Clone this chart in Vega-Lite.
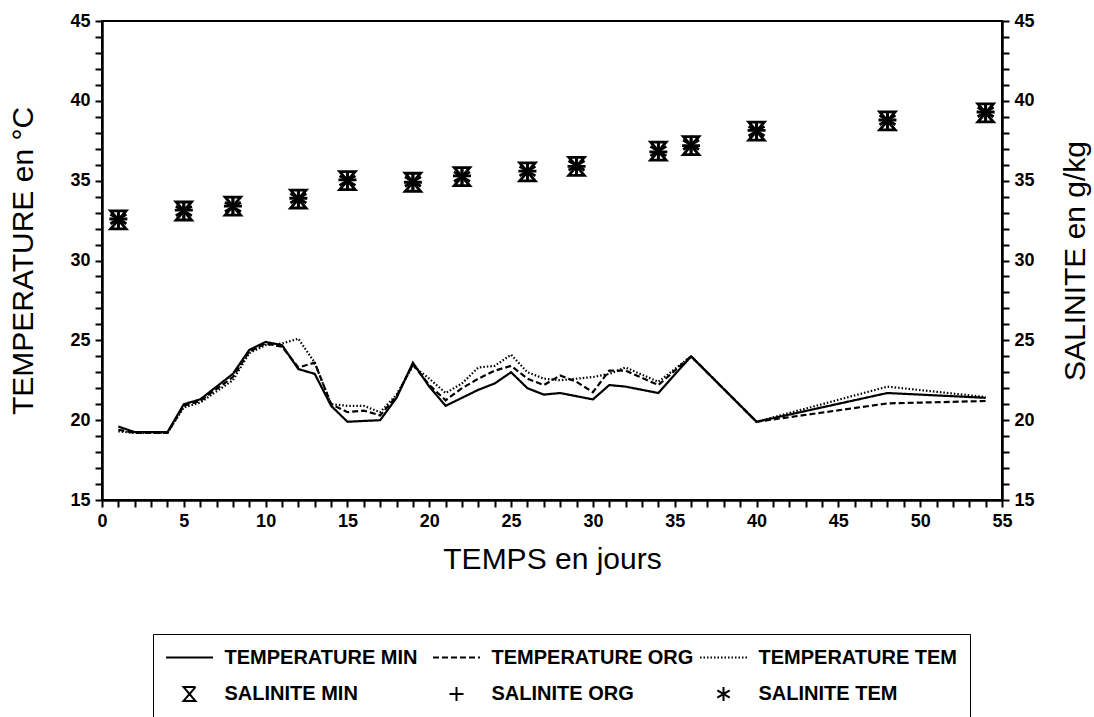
{
  "$schema": "https://vega.github.io/schema/vega-lite/v6.json",
  "width": 900,
  "height": 479,
  "autosize": {"type": "none"},
  "padding": {"left": 102, "top": 21, "right": 92, "bottom": 217},
  "background": "white",
  "config": {
    "view": {"stroke": "black", "strokeWidth": 2},
    "font": "Liberation Sans",
    "axis": {
      "grid": false,
      "domainColor": "black",
      "domainWidth": 2.5,
      "tickColor": "black",
      "tickWidth": 2,
      "tickSize": 7,
      "labelFont": "Liberation Sans",
      "labelFontWeight": "bold",
      "labelFontSize": 18,
      "labelColor": "black",
      "labelPadding": 5,
      "labelFlush": false,
      "labelOverlap": false,
      "titleFont": "Liberation Sans",
      "titleFontWeight": "normal",
      "titleFontSize": 30,
      "titleColor": "black"
    },
    "legend": {
      "orient": "none",
      "legendX": 51,
      "legendY": 613,
      "columns": 3,
      "direction": "horizontal",
      "gridAlign": "all",
      "strokeColor": "black",
      "padding": 12,
      "symbolSize": 400,
      "symbolOffset": 13.5,
      "symbolStrokeWidth": 2,
      "symbolStrokeColor": "black",
      "symbolFillColor": "transparent",
      "labelFont": "Liberation Sans",
      "labelFontWeight": "bold",
      "labelFontSize": 20,
      "labelColor": "black",
      "labelOffset": 24,
      "labelLimit": 400,
      "rowPadding": 15,
      "columnPadding": 2
    }
  },
  "datasets": {
    "temperature": [
      {"jour": 1, "temperature": 19.6, "serie": "TEMPERATURE MIN"},
      {"jour": 2, "temperature": 19.25, "serie": "TEMPERATURE MIN"},
      {"jour": 4, "temperature": 19.25, "serie": "TEMPERATURE MIN"},
      {"jour": 5, "temperature": 21.0, "serie": "TEMPERATURE MIN"},
      {"jour": 6, "temperature": 21.3, "serie": "TEMPERATURE MIN"},
      {"jour": 8, "temperature": 22.9, "serie": "TEMPERATURE MIN"},
      {"jour": 9, "temperature": 24.4, "serie": "TEMPERATURE MIN"},
      {"jour": 10, "temperature": 24.9, "serie": "TEMPERATURE MIN"},
      {"jour": 11, "temperature": 24.7, "serie": "TEMPERATURE MIN"},
      {"jour": 12, "temperature": 23.2, "serie": "TEMPERATURE MIN"},
      {"jour": 13, "temperature": 22.9, "serie": "TEMPERATURE MIN"},
      {"jour": 14, "temperature": 20.9, "serie": "TEMPERATURE MIN"},
      {"jour": 15, "temperature": 19.9, "serie": "TEMPERATURE MIN"},
      {"jour": 17, "temperature": 20.0, "serie": "TEMPERATURE MIN"},
      {"jour": 18, "temperature": 21.4, "serie": "TEMPERATURE MIN"},
      {"jour": 19, "temperature": 23.6, "serie": "TEMPERATURE MIN"},
      {"jour": 20, "temperature": 22.1, "serie": "TEMPERATURE MIN"},
      {"jour": 21, "temperature": 20.9, "serie": "TEMPERATURE MIN"},
      {"jour": 22, "temperature": 21.4, "serie": "TEMPERATURE MIN"},
      {"jour": 23, "temperature": 21.9, "serie": "TEMPERATURE MIN"},
      {"jour": 24, "temperature": 22.3, "serie": "TEMPERATURE MIN"},
      {"jour": 25, "temperature": 23.0, "serie": "TEMPERATURE MIN"},
      {"jour": 26, "temperature": 22.0, "serie": "TEMPERATURE MIN"},
      {"jour": 27, "temperature": 21.6, "serie": "TEMPERATURE MIN"},
      {"jour": 28, "temperature": 21.7, "serie": "TEMPERATURE MIN"},
      {"jour": 30, "temperature": 21.3, "serie": "TEMPERATURE MIN"},
      {"jour": 31, "temperature": 22.2, "serie": "TEMPERATURE MIN"},
      {"jour": 32, "temperature": 22.1, "serie": "TEMPERATURE MIN"},
      {"jour": 34, "temperature": 21.7, "serie": "TEMPERATURE MIN"},
      {"jour": 36, "temperature": 24.0, "serie": "TEMPERATURE MIN"},
      {"jour": 40, "temperature": 19.9, "serie": "TEMPERATURE MIN"},
      {"jour": 48, "temperature": 21.7, "serie": "TEMPERATURE MIN"},
      {"jour": 54, "temperature": 21.4, "serie": "TEMPERATURE MIN"},

      {"jour": 1, "temperature": 19.4, "serie": "TEMPERATURE ORG"},
      {"jour": 2, "temperature": 19.2, "serie": "TEMPERATURE ORG"},
      {"jour": 4, "temperature": 19.2, "serie": "TEMPERATURE ORG"},
      {"jour": 5, "temperature": 20.9, "serie": "TEMPERATURE ORG"},
      {"jour": 6, "temperature": 21.2, "serie": "TEMPERATURE ORG"},
      {"jour": 8, "temperature": 22.7, "serie": "TEMPERATURE ORG"},
      {"jour": 9, "temperature": 24.3, "serie": "TEMPERATURE ORG"},
      {"jour": 10, "temperature": 24.8, "serie": "TEMPERATURE ORG"},
      {"jour": 11, "temperature": 24.6, "serie": "TEMPERATURE ORG"},
      {"jour": 12, "temperature": 23.3, "serie": "TEMPERATURE ORG"},
      {"jour": 13, "temperature": 23.6, "serie": "TEMPERATURE ORG"},
      {"jour": 14, "temperature": 21.0, "serie": "TEMPERATURE ORG"},
      {"jour": 15, "temperature": 20.5, "serie": "TEMPERATURE ORG"},
      {"jour": 16, "temperature": 20.6, "serie": "TEMPERATURE ORG"},
      {"jour": 17, "temperature": 20.3, "serie": "TEMPERATURE ORG"},
      {"jour": 18, "temperature": 21.5, "serie": "TEMPERATURE ORG"},
      {"jour": 19, "temperature": 23.5, "serie": "TEMPERATURE ORG"},
      {"jour": 20, "temperature": 22.2, "serie": "TEMPERATURE ORG"},
      {"jour": 21, "temperature": 21.25, "serie": "TEMPERATURE ORG"},
      {"jour": 22, "temperature": 22.0, "serie": "TEMPERATURE ORG"},
      {"jour": 23, "temperature": 22.6, "serie": "TEMPERATURE ORG"},
      {"jour": 24, "temperature": 23.1, "serie": "TEMPERATURE ORG"},
      {"jour": 25, "temperature": 23.4, "serie": "TEMPERATURE ORG"},
      {"jour": 26, "temperature": 22.6, "serie": "TEMPERATURE ORG"},
      {"jour": 27, "temperature": 22.2, "serie": "TEMPERATURE ORG"},
      {"jour": 28, "temperature": 22.8, "serie": "TEMPERATURE ORG"},
      {"jour": 29, "temperature": 22.4, "serie": "TEMPERATURE ORG"},
      {"jour": 30, "temperature": 21.75, "serie": "TEMPERATURE ORG"},
      {"jour": 31, "temperature": 23.1, "serie": "TEMPERATURE ORG"},
      {"jour": 32, "temperature": 23.1, "serie": "TEMPERATURE ORG"},
      {"jour": 34, "temperature": 22.2, "serie": "TEMPERATURE ORG"},
      {"jour": 36, "temperature": 24.0, "serie": "TEMPERATURE ORG"},
      {"jour": 40, "temperature": 19.9, "serie": "TEMPERATURE ORG"},
      {"jour": 48, "temperature": 21.05, "serie": "TEMPERATURE ORG"},
      {"jour": 54, "temperature": 21.2, "serie": "TEMPERATURE ORG"},

      {"jour": 1, "temperature": 19.3, "serie": "TEMPERATURE TEM"},
      {"jour": 2, "temperature": 19.2, "serie": "TEMPERATURE TEM"},
      {"jour": 4, "temperature": 19.2, "serie": "TEMPERATURE TEM"},
      {"jour": 5, "temperature": 20.8, "serie": "TEMPERATURE TEM"},
      {"jour": 6, "temperature": 21.1, "serie": "TEMPERATURE TEM"},
      {"jour": 8, "temperature": 22.5, "serie": "TEMPERATURE TEM"},
      {"jour": 9, "temperature": 24.2, "serie": "TEMPERATURE TEM"},
      {"jour": 10, "temperature": 24.7, "serie": "TEMPERATURE TEM"},
      {"jour": 11, "temperature": 24.8, "serie": "TEMPERATURE TEM"},
      {"jour": 12, "temperature": 25.1, "serie": "TEMPERATURE TEM"},
      {"jour": 13, "temperature": 23.6, "serie": "TEMPERATURE TEM"},
      {"jour": 14, "temperature": 21.0, "serie": "TEMPERATURE TEM"},
      {"jour": 15, "temperature": 20.9, "serie": "TEMPERATURE TEM"},
      {"jour": 16, "temperature": 20.9, "serie": "TEMPERATURE TEM"},
      {"jour": 17, "temperature": 20.5, "serie": "TEMPERATURE TEM"},
      {"jour": 18, "temperature": 21.6, "serie": "TEMPERATURE TEM"},
      {"jour": 19, "temperature": 23.4, "serie": "TEMPERATURE TEM"},
      {"jour": 20, "temperature": 22.6, "serie": "TEMPERATURE TEM"},
      {"jour": 21, "temperature": 21.7, "serie": "TEMPERATURE TEM"},
      {"jour": 22, "temperature": 22.3, "serie": "TEMPERATURE TEM"},
      {"jour": 23, "temperature": 23.3, "serie": "TEMPERATURE TEM"},
      {"jour": 24, "temperature": 23.4, "serie": "TEMPERATURE TEM"},
      {"jour": 25, "temperature": 24.1, "serie": "TEMPERATURE TEM"},
      {"jour": 26, "temperature": 23.0, "serie": "TEMPERATURE TEM"},
      {"jour": 27, "temperature": 22.6, "serie": "TEMPERATURE TEM"},
      {"jour": 28, "temperature": 22.5, "serie": "TEMPERATURE TEM"},
      {"jour": 30, "temperature": 22.7, "serie": "TEMPERATURE TEM"},
      {"jour": 31, "temperature": 22.9, "serie": "TEMPERATURE TEM"},
      {"jour": 32, "temperature": 23.3, "serie": "TEMPERATURE TEM"},
      {"jour": 34, "temperature": 22.4, "serie": "TEMPERATURE TEM"},
      {"jour": 36, "temperature": 24.0, "serie": "TEMPERATURE TEM"},
      {"jour": 40, "temperature": 19.9, "serie": "TEMPERATURE TEM"},
      {"jour": 48, "temperature": 22.1, "serie": "TEMPERATURE TEM"},
      {"jour": 54, "temperature": 21.45, "serie": "TEMPERATURE TEM"}
    ],
    "salinite": [
      {"jour": 1, "salinite": 32.55, "serie": "SALINITE MIN"},
      {"jour": 5, "salinite": 33.1, "serie": "SALINITE MIN"},
      {"jour": 8, "salinite": 33.4, "serie": "SALINITE MIN"},
      {"jour": 12, "salinite": 33.85, "serie": "SALINITE MIN"},
      {"jour": 15, "salinite": 35.0, "serie": "SALINITE MIN"},
      {"jour": 19, "salinite": 34.9, "serie": "SALINITE MIN"},
      {"jour": 22, "salinite": 35.25, "serie": "SALINITE MIN"},
      {"jour": 26, "salinite": 35.55, "serie": "SALINITE MIN"},
      {"jour": 29, "salinite": 35.9, "serie": "SALINITE MIN"},
      {"jour": 34, "salinite": 36.85, "serie": "SALINITE MIN"},
      {"jour": 36, "salinite": 37.2, "serie": "SALINITE MIN"},
      {"jour": 40, "salinite": 38.1, "serie": "SALINITE MIN"},
      {"jour": 48, "salinite": 38.75, "serie": "SALINITE MIN"},
      {"jour": 54, "salinite": 39.25, "serie": "SALINITE MIN"},

      {"jour": 1, "salinite": 32.6, "serie": "SALINITE ORG"},
      {"jour": 5, "salinite": 33.15, "serie": "SALINITE ORG"},
      {"jour": 8, "salinite": 33.4, "serie": "SALINITE ORG"},
      {"jour": 12, "salinite": 33.9, "serie": "SALINITE ORG"},
      {"jour": 15, "salinite": 35.05, "serie": "SALINITE ORG"},
      {"jour": 19, "salinite": 34.9, "serie": "SALINITE ORG"},
      {"jour": 22, "salinite": 35.3, "serie": "SALINITE ORG"},
      {"jour": 26, "salinite": 35.6, "serie": "SALINITE ORG"},
      {"jour": 29, "salinite": 35.9, "serie": "SALINITE ORG"},
      {"jour": 34, "salinite": 36.8, "serie": "SALINITE ORG"},
      {"jour": 36, "salinite": 37.2, "serie": "SALINITE ORG"},
      {"jour": 40, "salinite": 38.15, "serie": "SALINITE ORG"},
      {"jour": 48, "salinite": 38.8, "serie": "SALINITE ORG"},
      {"jour": 54, "salinite": 39.3, "serie": "SALINITE ORG"},

      {"jour": 1, "salinite": 32.6, "serie": "SALINITE TEM"},
      {"jour": 5, "salinite": 33.1, "serie": "SALINITE TEM"},
      {"jour": 8, "salinite": 33.35, "serie": "SALINITE TEM"},
      {"jour": 12, "salinite": 33.9, "serie": "SALINITE TEM"},
      {"jour": 15, "salinite": 35.0, "serie": "SALINITE TEM"},
      {"jour": 19, "salinite": 34.95, "serie": "SALINITE TEM"},
      {"jour": 22, "salinite": 35.25, "serie": "SALINITE TEM"},
      {"jour": 26, "salinite": 35.6, "serie": "SALINITE TEM"},
      {"jour": 29, "salinite": 35.95, "serie": "SALINITE TEM"},
      {"jour": 34, "salinite": 36.85, "serie": "SALINITE TEM"},
      {"jour": 36, "salinite": 37.25, "serie": "SALINITE TEM"},
      {"jour": 40, "salinite": 38.1, "serie": "SALINITE TEM"},
      {"jour": 48, "salinite": 38.8, "serie": "SALINITE TEM"},
      {"jour": 54, "salinite": 39.3, "serie": "SALINITE TEM"}
    ]
  },
  "encoding": {
    "x": {
      "field": "jour",
      "type": "quantitative",
      "scale": {"domain": [0, 55], "nice": false, "zero": false},
      "axis": {
        "title": "TEMPS en jours",
        "titlePadding": 14,
        "values": [0,1,2,3,4,5,6,7,8,9,10,11,12,13,14,15,16,17,18,19,20,21,22,23,24,25,26,27,28,29,30,31,32,33,34,35,36,37,38,39,40,41,42,43,44,45,46,47,48,49,50,51,52,53,54,55],
        "labelExpr": "datum.value % 5 === 0 ? datum.label : ''"
      }
    }
  },
  "layer": [
    {
      "data": {"name": "temperature"},
      "mark": {"type": "line", "color": "black", "strokeWidth": 2.2},
      "encoding": {
        "y": {
          "field": "temperature",
          "type": "quantitative",
          "scale": {"domain": [15, 45], "nice": false, "zero": false},
          "axis": {
            "orient": "left",
            "title": "TEMPERATURE en °C",
            "titlePadding": 31,
            "values": [15,16,17,18,19,20,21,22,23,24,25,26,27,28,29,30,31,32,33,34,35,36,37,38,39,40,41,42,43,44,45],
            "labelExpr": "datum.value % 5 === 0 ? datum.label : ''"
          }
        },
        "strokeDash": {
          "field": "serie",
          "type": "nominal",
          "scale": {
            "domain": ["TEMPERATURE MIN", "TEMPERATURE ORG", "TEMPERATURE TEM", "SALINITE MIN", "SALINITE ORG", "SALINITE TEM"],
            "range": [[1, 0], [6, 3], [1.5, 2], [1, 0], [1, 0], [1, 0]]
          },
          "legend": {"title": null}
        }
      }
    },
    {
      "data": {"name": "salinite"},
      "mark": {"type": "point", "color": "black", "filled": false, "strokeWidth": 2.8, "size": 660, "opacity": 1},
      "encoding": {
        "y": {
          "field": "salinite",
          "type": "quantitative",
          "scale": {"domain": [15, 45], "nice": false, "zero": false},
          "axis": {
            "orient": "right",
            "title": "SALINITE en g/kg",
            "titleAngle": 270,
            "titleBaseline": "top",
            "titlePadding": 26,
            "values": [15,16,17,18,19,20,21,22,23,24,25,26,27,28,29,30,31,32,33,34,35,36,37,38,39,40,41,42,43,44,45],
            "labelExpr": "datum.value % 5 === 0 ? datum.label : ''"
          }
        },
        "shape": {
          "field": "serie",
          "type": "nominal",
          "scale": {
            "domain": ["TEMPERATURE MIN", "TEMPERATURE ORG", "TEMPERATURE TEM", "SALINITE MIN", "SALINITE ORG", "SALINITE TEM"],
            "range": [
              "M-2.35,0L2.35,0",
              "M-2.35,0L2.35,0",
              "M-2.35,0L2.35,0",
              "M-0.6,-0.7L0.6,-0.7L-0.6,0.7L0.6,0.7Z",
              "M-0.7,0L0.7,0M0,-0.7L0,0.7",
              "M0,-0.7L0,0.7M-0.62,-0.37L0.62,0.37M-0.62,0.37L0.62,-0.37"
            ]
          },
          "legend": {"title": null}
        }
      }
    }
  ],
  "resolve": {"scale": {"y": "independent"}}
}
